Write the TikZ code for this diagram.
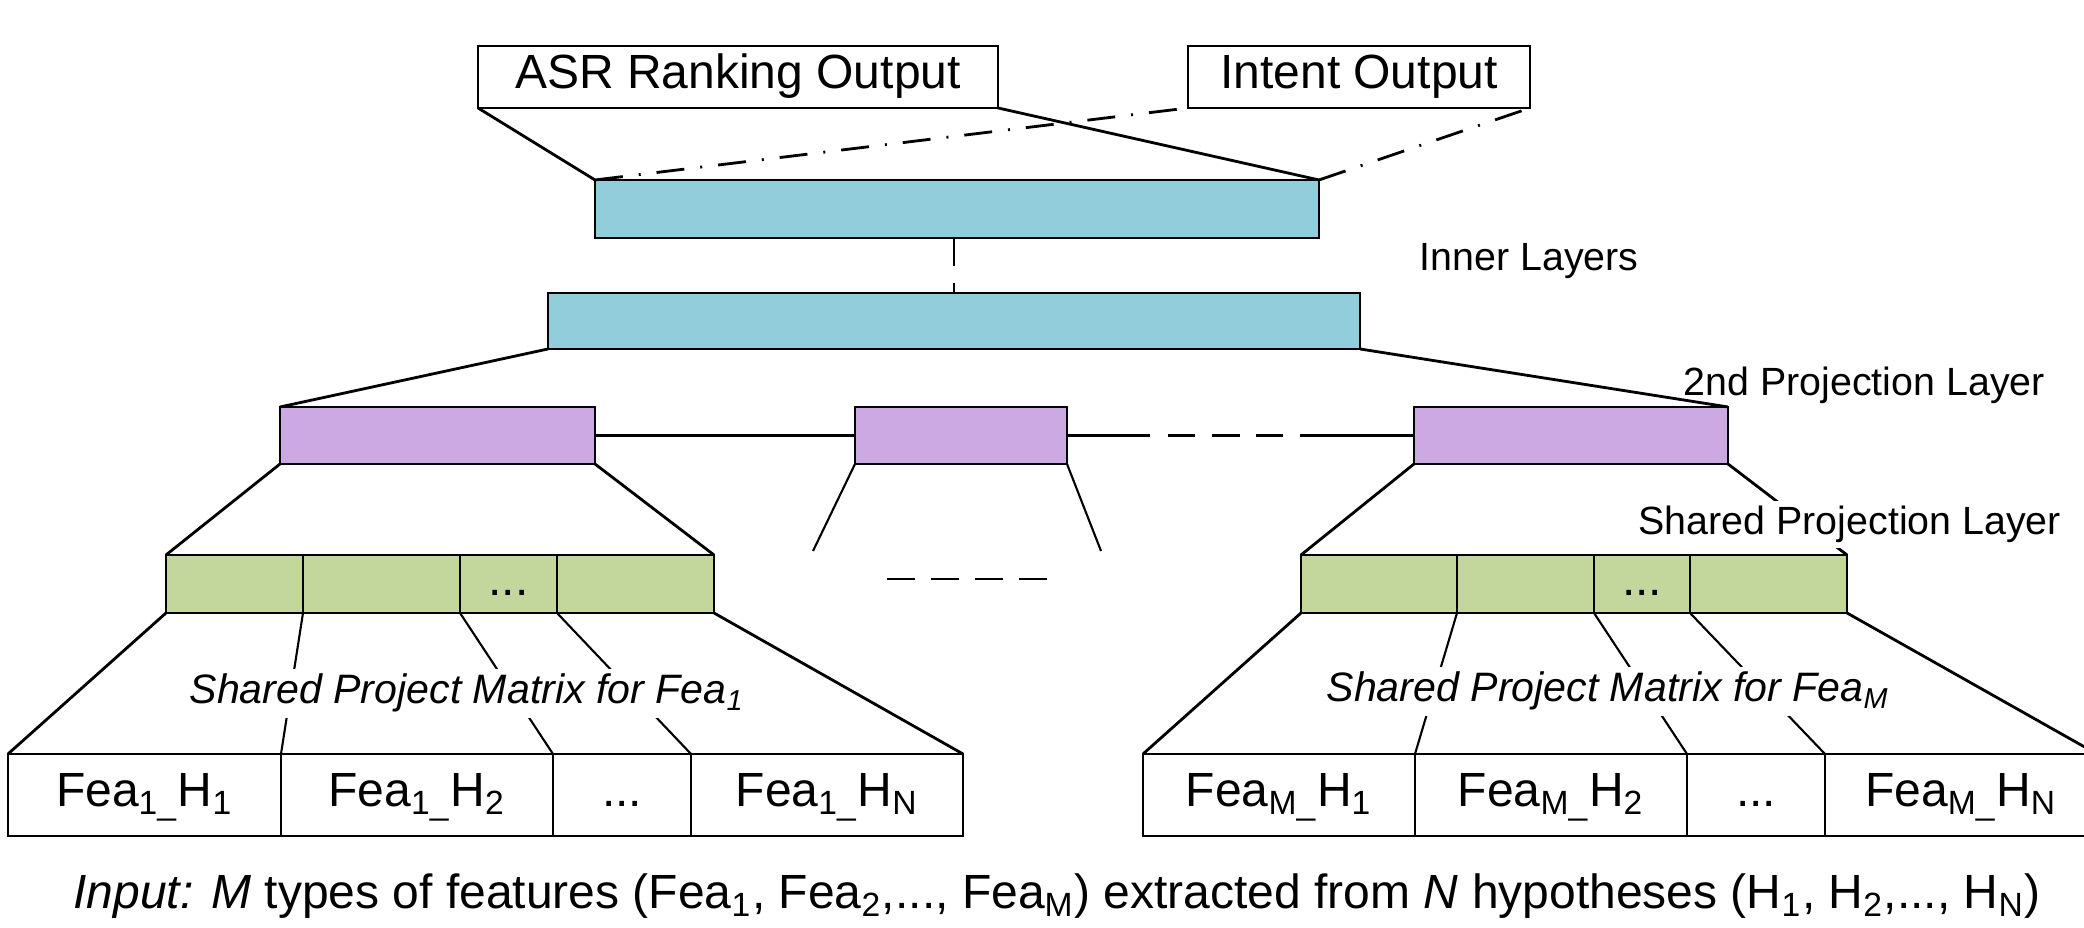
\documentclass[tikz,border=0pt]{standalone}
\usepackage{fontspec}
\setmainfont{Liberation Sans}
\usetikzlibrary{positioning}

\definecolor{bluefill}{HTML}{92CDDC}
\definecolor{purplefill}{HTML}{CDA9E3}
\definecolor{greenfill}{HTML}{C3D69B}

\newcommand{\mainsize}{\fontsize{13.66}{16}\selectfont}
\newcommand{\labelsize}{\fontsize{11.2}{13}\selectfont}
\newcommand{\matsize}{\fontsize{11.7}{14}\selectfont}

\tikzset{
  layerbox/.style={draw, line width=0.8pt, inner sep=0pt, outer sep=0pt,
    text height=1.5ex, text depth=.25ex, font=\mainsize},
  outbox/.style={layerbox, fill=white, minimum height=0.62cm},
  bluebox/.style={layerbox, fill=bluefill},
  purplebox/.style={layerbox, fill=purplefill, minimum height=0.57cm},
  greencell/.style={layerbox, fill=greenfill, minimum height=0.58cm},
  feacell/.style={layerbox, minimum height=0.82cm},
  conn/.style={line width=0.8pt},
  thinconn/.style={line width=0.6pt},
  dashdotline/.style={line width=0.8pt, dash pattern=on 0.28cm off 0.16cm on 0.02cm off 0.16cm},
  gapline/.style={line width=0.8pt, dash pattern=on 0.28cm off 0.16cm},
  sidelabel/.style={font=\labelsize, anchor=base west, inner sep=0.05cm},
  matlabel/.style={font=\matsize\itshape, anchor=base, fill=white, inner sep=0.05cm}
}

\begin{document}
\begin{tikzpicture}
    \useasboundingbox (0,0) rectangle (20.84,9.28);
    \clip (0,0) rectangle (20.84,9.28);

    % 输出层
    \node[outbox, minimum width=5.20cm] (asr) at (7.38,8.51) {ASR Ranking Output};
    \node[outbox, minimum width=3.42cm] (intent) at (13.59,8.51) {Intent Output};

    % 内部层
    \node[bluebox, minimum width=7.24cm, minimum height=0.58cm] (blue1) at (9.57,7.19) {};
    \node[bluebox, minimum width=8.12cm, minimum height=0.56cm] (blue2) at (9.54,6.07) {};

    % 第二投影层
    \node[purplebox, minimum width=3.15cm] (p1) at (4.375,4.925) {};
    \node[purplebox, minimum width=2.12cm] (p2) at (9.61,4.925) {};
    \node[purplebox, minimum width=3.14cm] (p3) at (15.71,4.925) {};

    % 共享投影层
    \node[greencell, minimum width=1.37cm] (g11) at (2.345,3.44) {};
    \node[greencell, minimum width=1.57cm, right=0pt of g11] (g12) {};
    \node[greencell, minimum width=0.97cm, right=0pt of g12] (g13) {...};
    \node[greencell, minimum width=1.57cm, right=0pt of g13] (g14) {};
    \node[greencell, minimum width=1.56cm] (g21) at (13.79,3.44) {};
    \node[greencell, minimum width=1.37cm, right=0pt of g21] (g22) {};
    \node[greencell, minimum width=0.96cm, right=0pt of g22] (g23) {...};
    \node[greencell, minimum width=1.57cm, right=0pt of g23] (g24) {};

    % 输入特征
    \node[feacell, minimum width=2.73cm] (f11) at (1.445,1.33) {Fea\textsubscript{1\_}H\textsubscript{1}};
    \node[feacell, minimum width=2.72cm, right=0pt of f11] (f12) {Fea\textsubscript{1\_}H\textsubscript{2}};
    \node[feacell, minimum width=1.38cm, right=0pt of f12] (f13) {...};
    \node[feacell, minimum width=2.72cm, right=0pt of f13] (f14) {Fea\textsubscript{1\_}H\textsubscript{N}};
    \node[feacell, minimum width=2.72cm] (f21) at (12.79,1.33) {Fea\textsubscript{M\_}H\textsubscript{1}};
    \node[feacell, minimum width=2.72cm, right=0pt of f21] (f22) {Fea\textsubscript{M\_}H\textsubscript{2}};
    \node[feacell, minimum width=1.38cm, right=0pt of f22] (f23) {...};
    \node[feacell, minimum width=2.72cm, right=0pt of f23] (f24) {Fea\textsubscript{M\_}H\textsubscript{N}};

    \coordinate (m1) at (8.13,3.77);
    \coordinate (m2) at (11.01,3.77);
    \coordinate (d1) at (8.87,3.49);
    \coordinate (d2) at (10.47,3.49);

    % 连线
    \draw[conn] (asr.south west) -- (blue1.north west);
    \draw[conn] (asr.south east) -- (blue1.north east);
    \draw[dashdotline] (blue1.north west) -- (intent.south west);
    \draw[dashdotline] (blue1.north east) -- (intent.south east);
    \draw[gapline, dash pattern=on 0.28cm off 0.17cm] (blue2.north |- blue1.south) -- (blue2.north);
    \draw[conn] (blue2.south west) -- (p1.north west);
    \draw[conn] (blue2.south east) -- (p3.north east);
    \draw[conn] (p1.east) -- (p2.west);
    \draw[conn, dash pattern=on 0.83cm off 0.18cm on 0.27cm off 0.17cm on 0.28cm off 0.16cm on 0.27cm off 0.17cm on 3cm] (p2.east) -- (p3.west);
    \draw[conn] (p1.south west) -- (g11.north west);
    \draw[conn] (p1.south east) -- (g14.north east);
    \draw[thinconn] (p2.south west) -- (m1);
    \draw[thinconn] (p2.south east) -- (m2);
    \draw[gapline] (d1) -- (d2);
    \draw[conn] (p3.south west) -- (g21.north west);
    \draw[conn] (p3.south east) -- (g24.north east);

    \draw[conn] (g11.south west) -- (f11.north west);
    \draw[conn] (g14.south east) -- (f14.north east);
    \draw[thinconn] (g11.south east) -- (f11.north east);
    \draw[thinconn] (g12.south east) -- (f12.north east);
    \draw[thinconn] (g13.south east) -- (f13.north east);
    \draw[conn] (g21.south west) -- (f21.north west);
    \draw[conn] (g24.south east) -- (f24.north east);
    \draw[thinconn] (g21.south east) -- (f21.north east);
    \draw[thinconn] (g22.south east) -- (f22.north east);
    \draw[thinconn] (g23.south east) -- (f23.north east);

    % 标注
    \node[sidelabel] (inner) at (14.14,6.57) {Inner Layers};
    \node[sidelabel] (second) at (16.78,5.32) {2nd Projection Layer};
    \node[sidelabel, fill=white] (shared) at (16.33,3.93) {Shared Projection Layer};
    \node[matlabel] (mat1) at (4.67,2.24) {Shared Project Matrix for Fea\textsubscript{1}};
    \node[matlabel] (mat2) at (16.08,2.26) {Shared Project Matrix for Fea\textsubscript{M}};
    \node[font=\mainsize, anchor=base] (input) at (10.57,0.19) {\textit{Input:} \textit{M} types of features (Fea\textsubscript{1}, Fea\textsubscript{2},..., Fea\textsubscript{M}) extracted from \textit{N} hypotheses (H\textsubscript{1}, H\textsubscript{2},..., H\textsubscript{N})};
\end{tikzpicture}
\end{document}
